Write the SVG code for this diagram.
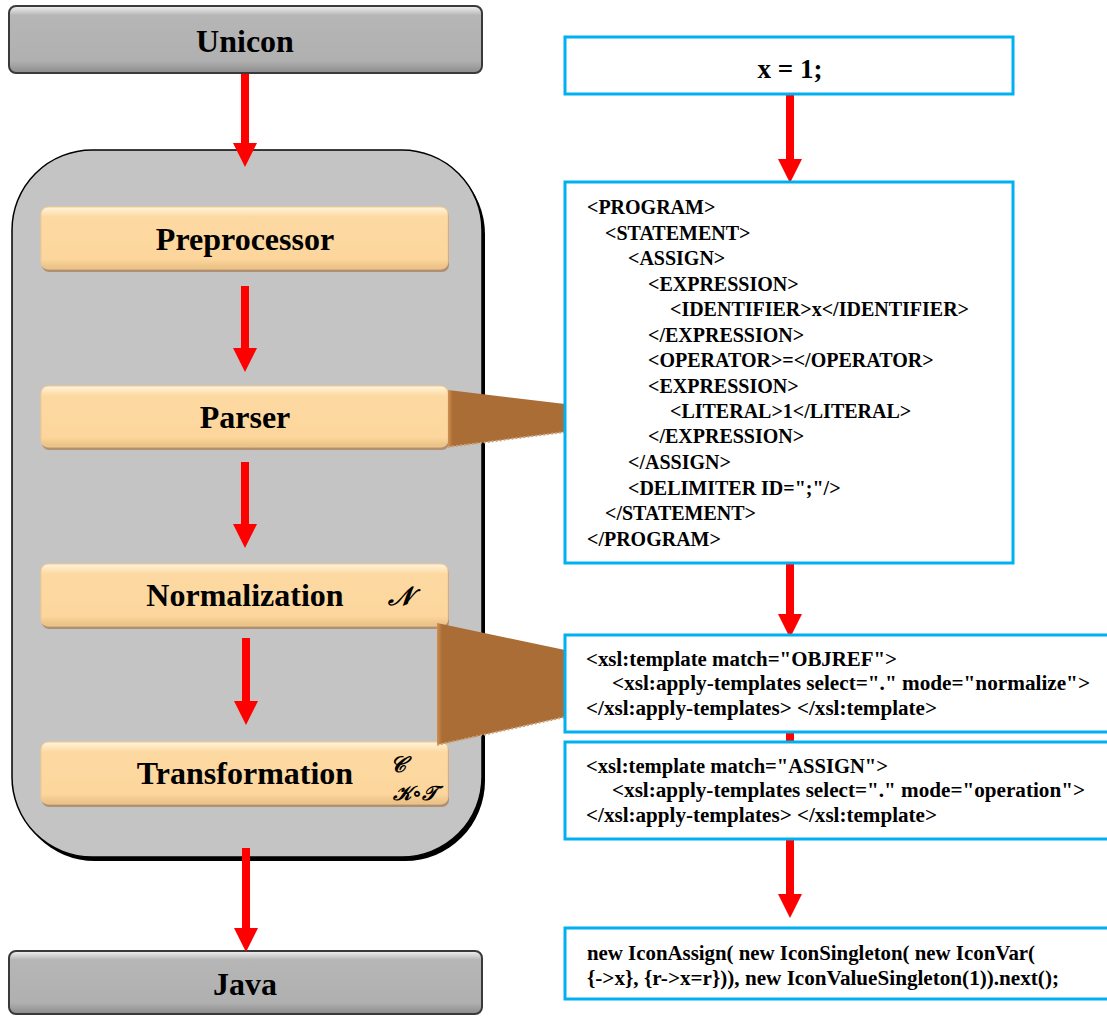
<svg xmlns="http://www.w3.org/2000/svg" width="1107" height="1016" viewBox="0 0 1107 1016">
<defs>
<linearGradient id="gGray" x1="0" y1="0" x2="0" y2="1">
<stop offset="0" stop-color="#f2f2f2"/>
<stop offset="0.14" stop-color="#b6b6b6"/>
<stop offset="0.82" stop-color="#b0b0b0"/>
<stop offset="1" stop-color="#8c8c8c"/>
</linearGradient>
<linearGradient id="gOrange" x1="0" y1="0" x2="0" y2="1">
<stop offset="0" stop-color="#fff4dc"/>
<stop offset="0.16" stop-color="#fdd9a2"/>
<stop offset="0.84" stop-color="#fcd69c"/>
<stop offset="1" stop-color="#e8bf85"/>
</linearGradient>
<linearGradient id="gBrown" x1="0" y1="0" x2="1" y2="0">
<stop offset="0" stop-color="#d08f4f"/>
<stop offset="0.04" stop-color="#a96d35"/>
<stop offset="1" stop-color="#a96d35"/>
</linearGradient>
<marker id="ah" viewBox="0 0 24 24" refX="0" refY="12" markerWidth="24" markerHeight="24" markerUnits="userSpaceOnUse" orient="auto">
<path d="M0,0 L24,12 L0,24 Z" fill="#ff0000"/>
</marker>
</defs>
<style>
.lbl{font-family:"Liberation Serif","Times New Roman",serif;font-weight:bold;fill:#000}
.big{font-size:32px;text-anchor:middle}
.code{font-size:20px}
.blue{fill:#ffffff;stroke:#00b0f0;stroke-width:3}
.orange{fill:url(#gOrange);stroke:#f3c98f;stroke-width:1}
.oshadow{fill:#b09070}
.gray{fill:url(#gGray);stroke:#3a3a3a;stroke-width:2}
.arrow{stroke:#ff0000;stroke-width:8;fill:none}
.brown{fill:url(#gBrown)}
.math{font-family:"DejaVu Serif","DejaVu Sans",serif;font-style:italic;font-weight:bold;fill:#000}
</style>

<g id="container">
<rect x="15" y="154" width="470" height="707" rx="80" ry="80" fill="#000"/>
<rect x="12" y="150" width="470" height="707" rx="80" ry="80" fill="#c4c4c4" stroke="#000" stroke-width="1.5"/>
</g>

<g id="unicon">
<rect x="9" y="6" width="473" height="67" rx="7" class="gray"/>
<text x="245" y="52" class="lbl big" font-size="31">Unicon</text>
</g>

<g id="java">
<rect x="9" y="951" width="473" height="63" rx="7" class="gray"/>
<text x="245" y="995" class="lbl big" font-size="31">Java</text>
</g>

<g id="preprocessor">
<rect x="42" y="209" width="407" height="63" rx="7" class="oshadow"/>
<rect x="41" y="207" width="407" height="62" rx="7" class="orange"/>
<text x="245" y="250" class="lbl big">Preprocessor</text>
</g>

<g id="parser">
<rect x="42" y="388" width="407" height="62" rx="7" class="oshadow"/>
<rect x="41" y="386" width="407" height="61" rx="7" class="orange"/>
<text x="245" y="428" class="lbl big">Parser</text>
</g>

<g id="normalization">
<rect x="42" y="566" width="407" height="63" rx="7" class="oshadow"/>
<rect x="41" y="564" width="407" height="62" rx="7" class="orange"/>
<text x="245" y="606" class="lbl big">Normalization</text>
<text x="400" y="605" class="math" font-size="26" text-anchor="middle">𝒩</text>
</g>

<g id="transformation">
<rect x="42" y="744" width="407" height="63" rx="7" class="oshadow"/>
<rect x="41" y="742" width="407" height="62" rx="7" class="orange"/>
<text x="245" y="784" class="lbl big">Transformation</text>
<text x="398" y="772" class="math" font-size="22" text-anchor="middle">𝒞</text>
<text x="415" y="800" class="math" font-size="20" text-anchor="middle">𝒦∘𝒯</text>
</g>

<g id="links">
<polygon points="448,390 565,404 565,432 448,447" class="brown"/>
<path d="M448,447 L565,432" stroke="#c9a27a" stroke-width="2" stroke-dasharray="2,2"/>
<polygon points="437,623 565,650 565,717 437,745" class="brown"/>
<path d="M437,745 L565,717" stroke="#c9a27a" stroke-width="2" stroke-dasharray="2,2"/>
</g>

<g id="connectors">
<line x1="245" y1="74" x2="245" y2="143" class="arrow" marker-end="url(#ah)"/>
<line x1="245" y1="286" x2="245" y2="348" class="arrow" marker-end="url(#ah)"/>
<line x1="245" y1="462" x2="245" y2="524" class="arrow" marker-end="url(#ah)"/>
<line x1="246" y1="638" x2="246" y2="701" class="arrow" marker-end="url(#ah)"/>
<line x1="246" y1="848" x2="246" y2="928" class="arrow" marker-end="url(#ah)"/>
<line x1="790" y1="94" x2="790" y2="159" class="arrow" marker-end="url(#ah)"/>
<line x1="790" y1="563" x2="790" y2="614" class="arrow" marker-end="url(#ah)"/>
<line x1="790" y1="730" x2="790" y2="745" class="arrow"/>
<line x1="790" y1="839" x2="790" y2="894" class="arrow" marker-end="url(#ah)"/>
</g>

<g id="source">
<rect x="565" y="37" width="448" height="57" class="blue"/>
<text x="790" y="78" class="lbl" font-size="27" text-anchor="middle">x = 1;</text>
</g>

<g id="xml">
<rect x="565" y="182" width="448" height="381" class="blue"/>
<text class="lbl code">
<tspan x="587" y="214">&lt;PROGRAM&gt;</tspan>
<tspan x="605" y="240">&lt;STATEMENT&gt;</tspan>
<tspan x="628" y="265">&lt;ASSIGN&gt;</tspan>
<tspan x="648" y="291">&lt;EXPRESSION&gt;</tspan>
<tspan x="670" y="316">&lt;IDENTIFIER&gt;x&lt;/IDENTIFIER&gt;</tspan>
<tspan x="648" y="342">&lt;/EXPRESSION&gt;</tspan>
<tspan x="648" y="367">&lt;OPERATOR&gt;=&lt;/OPERATOR&gt;</tspan>
<tspan x="648" y="393">&lt;EXPRESSION&gt;</tspan>
<tspan x="670" y="418">&lt;LITERAL&gt;1&lt;/LITERAL&gt;</tspan>
<tspan x="648" y="443">&lt;/EXPRESSION&gt;</tspan>
<tspan x="628" y="469">&lt;/ASSIGN&gt;</tspan>
<tspan x="628" y="495">&lt;DELIMITER ID=";"/&gt;</tspan>
<tspan x="605" y="520">&lt;/STATEMENT&gt;</tspan>
<tspan x="587" y="546">&lt;/PROGRAM&gt;</tspan>
</text>
</g>

<g id="xsl-normalize">
<rect x="565" y="635" width="560" height="97" class="blue"/>
<text class="lbl code" x="586" y="666" textLength="311" lengthAdjust="spacingAndGlyphs">&lt;xsl:template match="OBJREF"&gt;</text>
<text class="lbl code" x="612" y="690" textLength="478" lengthAdjust="spacingAndGlyphs">&lt;xsl:apply-templates select="." mode="normalize"&gt;</text>
<text class="lbl code" x="586" y="715" textLength="351" lengthAdjust="spacingAndGlyphs">&lt;/xsl:apply-templates&gt; &lt;/xsl:template&gt;</text>
</g>

<g id="xsl-operation">
<rect x="565" y="742" width="560" height="97" class="blue"/>
<text class="lbl code" x="586" y="773" textLength="302" lengthAdjust="spacingAndGlyphs">&lt;xsl:template match="ASSIGN"&gt;</text>
<text class="lbl code" x="612" y="797" textLength="473" lengthAdjust="spacingAndGlyphs">&lt;xsl:apply-templates select="." mode="operation"&gt;</text>
<text class="lbl code" x="586" y="822" textLength="351" lengthAdjust="spacingAndGlyphs">&lt;/xsl:apply-templates&gt; &lt;/xsl:template&gt;</text>
</g>

<g id="java-code">
<rect x="565" y="928" width="560" height="71" class="blue"/>
<text class="lbl code" x="587" y="960" textLength="448" lengthAdjust="spacingAndGlyphs">new IconAssign(  new IconSingleton(  new IconVar(</text>
<text class="lbl code" x="587" y="985" textLength="472" lengthAdjust="spacingAndGlyphs">{-&gt;x}, {r-&gt;x=r})),  new IconValueSingleton(1)).next();</text>
</g>
</svg>
